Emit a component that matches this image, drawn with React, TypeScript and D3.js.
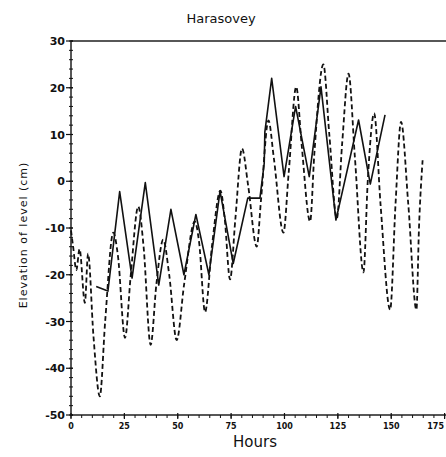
import React from "react";
import * as d3 from "d3";

// Observed water level (solid) and computed level (dashed), cm vs hours
const solidHours = [11.8, 17.3, 22.8, 28.6, 34.8, 41.1, 46.8, 52.9, 58.5, 64.6, 69.8, 76, 82.8, 88.5, 90.5, 90.8, 94, 99.8, 105.2, 111.6, 117.1, 124.1, 134.7, 140.2, 147.1];
const solidLevels = [-22.5, -23.5, -2.2, -20.7, -0.3, -22.2, -6, -20, -7.1, -20, -2.1, -17.6, -3.6, -3.6, 3.8, 10.5, 22, 1, 16, 1, 20.2, -8.3, 13.1, -0.6, 14.2];

const dashedHours = [0, 1, 2.5, 4, 6.5, 8, 10.5, 13.5, 16, 19.8, 22, 25.3, 28, 31.5, 34, 37.3, 40, 43.2, 46, 49.5, 53, 58, 60, 62.8, 66, 70, 72, 74.5, 77, 80.1, 83, 87, 89, 92.5, 95, 99.5, 102, 105.5, 108, 112, 114, 118.2, 121, 124.5, 127, 130, 133, 137, 139, 142, 145, 149.5, 152, 154.6, 158, 161.8, 163, 164.7];
const dashedLevels = [-10.5, -14, -19, -14.5, -26, -15.5, -33, -46, -30, -11, -16, -33.5, -20, -5.4, -14, -35, -22, -12.5, -20, -34, -22, -8.6, -13, -28, -14, -2, -8, -21, -8, 7, -1, -14, -4, 13, 5, -11, 2, 20.2, 8, -8.6, 6, 25, 10, -8, 8, 23, 5, -19.5, 0, 14.5, -5, -27.5, -5, 12.7, -5, -27.5, -10, 4.5];

const xMajor = [0, 25, 50, 75, 100, 125, 150, 175];
const yMajor = [30, 20, 10, 0, -10, -20, -30, -40, -50];

const W = 446;
const H = 457;
const left = 71;
const right = 444.6;
const top = 41;
const bottom = 415;

export default function App() {
  const x = d3.scaleLinear().domain([0, 175]).range([left, right]);
  const y = d3.scaleLinear().domain([-50, 30]).range([bottom, top]);

  const solid = d3
    .line<number>()
    .x((_, i) => x(solidHours[i]))
    .y((v) => y(v));
  const dashed = d3
    .line<number>()
    .x((_, i) => x(dashedHours[i]))
    .y((v) => y(v))
    .curve(d3.curveMonotoneX);

  const xMinor = d3.range(0, 176, 5);
  const yMinor = d3.range(-50, 31, 2);
  const font = "'DejaVu Sans', sans-serif";

  return (
    <svg
      width={W}
      height={H}
      style={{ position: "absolute", left: 0, top: 0, background: "#fff" }}
    >
      <text x={221} y={23} textAnchor="middle" fontFamily={font} fontSize={13} fill="#111">
        Harasovey
      </text>

      {/* frame */}
      <rect x={left} y={top} width={W - left + 2} height={bottom - top} fill="none" stroke="#111" strokeWidth={1.4} />

      {/* y ticks */}
      {yMinor.map((v) => (
        <line key={"ym" + v} x1={left - 2} x2={left + 2} y1={y(v)} y2={y(v)} stroke="#111" strokeWidth={1} />
      ))}
      {yMajor.map((v) => (
        <g key={"yM" + v}>
          <line x1={left - 5} x2={left + 2} y1={y(v)} y2={y(v)} stroke="#111" strokeWidth={1.2} />
          <text x={left - 6} y={y(v) + 4} textAnchor="end" fontFamily={font} fontSize={11} fontWeight="bold" fill="#111">
            {v}
          </text>
        </g>
      ))}

      {/* x ticks; the last label is kept inside the page edge */}
      {xMinor.map((v) => (
        <line key={"xm" + v} x1={x(v)} x2={x(v)} y1={bottom} y2={bottom + 3} stroke="#111" strokeWidth={1} />
      ))}
      {xMajor.map((v) => (
        <g key={"xM" + v}>
          <line x1={x(v)} x2={x(v)} y1={bottom - 2} y2={bottom + 4} stroke="#111" strokeWidth={1.2} />
          <text
            x={v === 175 ? W - 2 : x(v)}
            y={bottom + 14}
            textAnchor={v === 175 ? "end" : "middle"}
            fontFamily={font}
            fontSize={8}
            fontWeight="bold"
            fill="#111"
          >
            {v}
          </text>
        </g>
      ))}

      <text x={255} y={447} textAnchor="middle" fontFamily={font} fontSize={15} fill="#111">
        Hours
      </text>
      <text
        transform={`translate(27,${(top + bottom) / 2 + 7}) rotate(-90)`}
        textAnchor="middle"
        fontFamily={font}
        fontSize={11}
        letterSpacing={1}
        fill="#111"
      >
        Elevation of level (cm)
      </text>

      <path d={dashed(dashedLevels) || ""} fill="none" stroke="#111" strokeWidth={1.8} strokeDasharray="5 3" />
      <path d={solid(solidLevels) || ""} fill="none" stroke="#111" strokeWidth={1.6} strokeLinejoin="round" />
    </svg>
  );
}
